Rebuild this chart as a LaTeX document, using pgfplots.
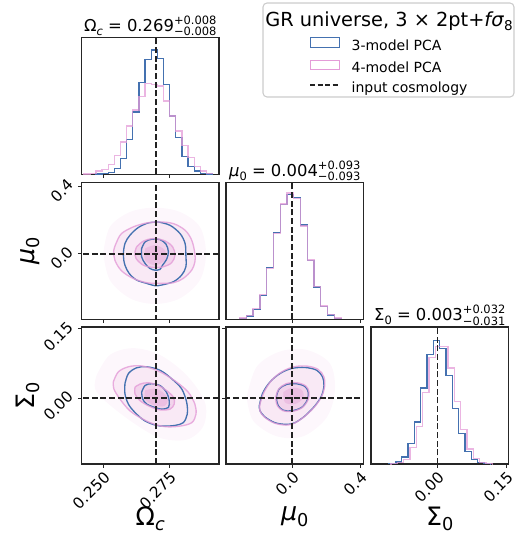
\documentclass[border=0pt]{standalone}
\usepackage{fontspec}
\setmainfont{DejaVu Sans}
\usepackage{pgfplots}
\pgfplotsset{compat=1.18}

\definecolor{modelA}{HTML}{4471B0}
\definecolor{modelB}{HTML}{E49CD8}
\definecolor{truthc}{HTML}{222222}
\definecolor{shadeA}{HTML}{FDF7FC}
\definecolor{shadeB}{HTML}{F9E9F5}
\definecolor{shadeC}{HTML}{F2D3EB}
\definecolor{shadeD}{HTML}{EBBFE2}

% small helpers for sub/superscripts set in the text font
\newcommand{\sub}[1]{\raisebox{-0.22em}{\scalebox{0.7}{#1}}}
\newcommand{\errs}[2]{\makebox[0pt][l]{\raisebox{5.6pt}{\fontsize{8.6}{9}\selectfont #1}}\raisebox{-3.3pt}{\fontsize{8.6}{9}\selectfont #2}}

\pgfplotsset{
  every axis title shift=0pt,
  panel/.style={
    scale only axis, width=103.125pt, height=102.75pt, anchor=north west,
    axis line style={line width=0.8pt, draw=black!85},
    tick align=outside, major tick length=2.8pt,
    tick style={line width=0.6pt, black!85},
    xtick pos=lower, ytick pos=left,
    tick label style={font=\fontsize{11.5}{12}\selectfont, inner sep=1.5pt},
    xticklabel style={rotate=45, anchor=north east},
    yticklabel style={rotate=45, anchor=south east},
    xlabel style={font=\fontsize{19}{20}\selectfont, at={(axis description cs:0.5,-0.3)}, anchor=north, inner sep=0pt, yshift=-1pt},
    ylabel style={font=\fontsize{19}{20}\selectfont, at={(axis description cs:-0.3,0.5)}, anchor=south, inner sep=0pt},
    title style={font=\fontsize{12.3}{13}\selectfont, at={(axis description cs:0.5,1)}, anchor=base, yshift=4.5pt, inner sep=0pt},
  },
  histA/.style={const plot, line width=1pt, draw=modelA, no marks, forget plot},
  histB/.style={const plot, line width=1pt, draw=modelB, draw opacity=0.75, no marks, forget plot},
  contA/.style={smooth, tension=0.55, line width=1pt, draw=modelA, no marks, forget plot},
  contB/.style={smooth, tension=0.55, line width=1pt, draw=modelB, draw opacity=0.8, no marks, forget plot},
  dens/.style={smooth, tension=0.55, draw=none, fill=#1, no marks, forget plot},
  truth/.style={line width=1.1pt, draw=truthc, dash pattern=on 4.5pt off 2pt, no marks, forget plot},
}

\begin{document}
\begin{tikzpicture}
\path[use as bounding box] (0pt,0pt) rectangle (393pt,402pt);

% ---------- legend frame and heading ----------
\draw[black!20, line width=0.8pt, fill=white, rounded corners=3pt]
  (197.25pt,329.25pt) rectangle (385.5pt,399.75pt);
\node[anchor=base, inner sep=0pt, font=\fontsize{14.5}{16}\selectfont]
  at (291.75pt,381.975pt) {GR universe, 3 × 2pt+\textit{fσ}\sub{8}};

% ---------- Omega_c marginal ----------
\begin{axis}[panel, at={(61.125pt,373.875pt)},
  xmin=0.2419, xmax=0.2938, ymin=0, ymax=410,
  xtick={0.25,0.275}, xticklabels={}, ytick=\empty,
  title={Ω\sub{\textit{c}} = 0.269\errs{+0.008}{−0.008}},
  legend style={at={(axis description cs:1.6567,1.0032)}, anchor=north west,
    draw=none, fill=none, inner sep=0pt, row sep=5pt, column sep=8.8pt,
    font=\fontsize{10.5}{12}\selectfont,
    nodes={inner sep=0pt, text height=7.8pt, text depth=2.2pt}},
  legend cell align=left]
\addlegendimage{legend image code/.code={\draw[draw=modelA, line width=0.8pt] (0pt,-0.6pt) rectangle (21.75pt,6.4pt);}}
\addlegendentry{3-model PCA}
\addlegendimage{legend image code/.code={\draw[draw=modelB, line width=0.8pt] (0pt,-0.6pt) rectangle (21.75pt,6.4pt);}}
\addlegendentry{4-model PCA}
\addlegendimage{legend image code/.code={\draw[draw=truthc, line width=1pt, dash pattern=on 3.8pt off 1.8pt] (0pt,2.9pt) -- (21.75pt,2.9pt);}}
\addlegendentry{input cosmology}
\addplot[histA] coordinates {
 (0.24738,0) (0.24738,1) (0.24969,2) (0.25201,5) (0.25433,18) (0.25664,47)
 (0.25896,105) (0.26127,187) (0.26359,275) (0.26591,345) (0.26822,373)
 (0.27054,347) (0.27285,270) (0.27517,175) (0.27749,110) (0.27980,53)
 (0.28212,23) (0.28443,10) (0.28675,3) (0.28907,1) (0.29138,1) (0.29138,0)};
\addplot[histB] coordinates {
 (0.24275,0) (0.24275,1) (0.24506,3) (0.24738,10) (0.24969,15) (0.25201,30)
 (0.25433,57) (0.25664,97) (0.25896,145) (0.26127,193) (0.26359,233)
 (0.26591,272) (0.26822,270) (0.27054,265) (0.27285,220) (0.27517,175)
 (0.27749,130) (0.27980,87) (0.28212,50) (0.28443,23) (0.28675,10)
 (0.28907,3) (0.29138,3) (0.29138,0)};
\addplot[truth] coordinates {(0.27,0) (0.27,410)};
\end{axis}

% ---------- Omega_c vs mu_0 ----------
\begin{axis}[panel, at={(61.125pt,265.125pt)},
  xmin=0.2419, xmax=0.2938, ymin=-0.388, ymax=0.421,
  xtick={0.25,0.275}, xticklabels={},
  ytick={0,0.4}, yticklabels={0.0,0.4},
  ylabel={\textit{μ}\sub{0}}]
\addplot[dens=shadeA] coordinates {(0.2501,0.0018) (0.2526,0.1586) (0.2602,0.2468) (0.2696,0.2723) (0.2791,0.2468) (0.2866,0.1586) (0.2889,0.0018) (0.2866,-0.1551) (0.2791,-0.2629) (0.2696,-0.2963) (0.2602,-0.2629) (0.2526,-0.1551) (0.2501,0.0018)};
\addplot[dens=shadeB] coordinates {(0.2552,0.0704) (0.2570,0.1194) (0.2614,0.1586) (0.2665,0.1821) (0.2715,0.1880) (0.2766,0.1782) (0.2810,0.1390) (0.2835,0.0802) (0.2847,0.0018) (0.2847,-0.0473) (0.2835,-0.0963) (0.2803,-0.1453) (0.2766,-0.1708) (0.2715,-0.1747) (0.2665,-0.1708) (0.2614,-0.1453) (0.2570,-0.1002) (0.2545,-0.0375) (0.2541,0.0214) (0.2552,0.0704)};
\addplot[dens=shadeC] coordinates {(0.2627,0.0410) (0.2652,0.0743) (0.2690,0.0900) (0.2734,0.0763) (0.2763,0.0410) (0.2772,-0.0081) (0.2759,-0.0531) (0.2728,-0.0767) (0.2690,-0.0806) (0.2652,-0.0669) (0.2625,-0.0277) (0.2621,0.0116) (0.2627,0.0410)};
\addplot[dens=shadeD] coordinates {(0.2659,0.0312) (0.2696,0.0508) (0.2734,0.0214) (0.2734,-0.0375) (0.2696,-0.0669) (0.2659,-0.0375) (0.2659,0.0312)};
\addplot[contA] coordinates {(0.2709,0.1880) (0.2753,0.1684) (0.2791,0.1194) (0.2810,0.0606) (0.2813,-0.0081) (0.2813,-0.0767) (0.2797,-0.1257) (0.2766,-0.1649) (0.2721,-0.1845) (0.2696,-0.1884) (0.2665,-0.1747) (0.2627,-0.1551) (0.2599,-0.1159) (0.2583,-0.0669) (0.2577,-0.0081) (0.2583,0.0606) (0.2602,0.1096) (0.2633,0.1547) (0.2671,0.1821) (0.2709,0.1880)};
\addplot[contA] coordinates {(0.2646,0.0312) (0.2659,0.0704) (0.2684,0.0861) (0.2715,0.0841) (0.2738,0.0567) (0.2747,0.0116) (0.2740,-0.0335) (0.2725,-0.0669) (0.2715,-0.0924) (0.2696,-0.0963) (0.2677,-0.0865) (0.2659,-0.0571) (0.2646,-0.0179) (0.2646,0.0312)};
\addplot[contB] coordinates {(0.2552,0.0704) (0.2570,0.1194) (0.2614,0.1586) (0.2665,0.1821) (0.2715,0.1880) (0.2766,0.1782) (0.2810,0.1390) (0.2835,0.0802) (0.2847,0.0018) (0.2847,-0.0473) (0.2835,-0.0963) (0.2803,-0.1453) (0.2766,-0.1708) (0.2715,-0.1747) (0.2665,-0.1708) (0.2614,-0.1453) (0.2570,-0.1002) (0.2545,-0.0375) (0.2541,0.0214) (0.2552,0.0704)};
\addplot[contB] coordinates {(0.2627,0.0410) (0.2652,0.0743) (0.2690,0.0900) (0.2734,0.0763) (0.2763,0.0410) (0.2772,-0.0081) (0.2759,-0.0531) (0.2728,-0.0767) (0.2690,-0.0806) (0.2652,-0.0669) (0.2625,-0.0277) (0.2621,0.0116) (0.2627,0.0410)};
\addplot[truth] coordinates {(0.27,-0.5) (0.27,0.5)};
\addplot[truth] coordinates {(0.2,0) (0.3,0)};
\end{axis}

% ---------- mu_0 marginal ----------
\begin{axis}[panel, at={(169.5pt,265.125pt)},
  xmin=-0.388, xmax=0.421, ymin=0, ymax=403,
  xtick={0,0.4}, xticklabels={}, ytick=\empty,
  title={\textit{μ}\sub{0} = 0.004\errs{+0.093}{−0.093}}]
\addplot[histA] coordinates {
 (-0.3079,0) (-0.3079,3) (-0.2681,10) (-0.2283,30) (-0.1885,71) (-0.1487,152)
 (-0.1088,255) (-0.0690,338) (-0.0292,368) (0.0106,358) (0.0504,278)
 (0.0902,173) (0.1300,96) (0.1698,38) (0.2097,13) (0.2495,3) (0.2893,3) (0.2893,0)};
\addplot[histB] coordinates {
 (-0.3079,0) (-0.3079,4) (-0.2681,12) (-0.2283,32) (-0.1885,73) (-0.1487,150)
 (-0.1088,252) (-0.0690,340) (-0.0292,372) (0.0106,355) (0.0504,275)
 (0.0902,175) (0.1300,98) (0.1698,40) (0.2097,14) (0.2495,4) (0.2893,4) (0.2893,0)};
\addplot[truth] coordinates {(0,0) (0,403)};
\end{axis}

% ---------- Omega_c vs Sigma_0 ----------
\begin{axis}[panel, at={(61.125pt,156.75pt)},
  xmin=0.2419, xmax=0.2938, ymin=-0.1433, ymax=0.1539,
  xtick={0.25,0.275}, xticklabels={0.250,0.275},
  ytick={0,0.15}, yticklabels={0.00,0.15},
  xlabel={Ω\sub{\textit{c}}}, ylabel={Σ\sub{0}}]
\addplot[dens=shadeA] coordinates {(0.2476,0.0492) (0.2526,0.0933) (0.2614,0.1080) (0.2715,0.0933) (0.2816,0.0492) (0.2885,-0.0096) (0.2879,-0.0611) (0.2816,-0.0905) (0.2715,-0.0868) (0.2614,-0.0538) (0.2514,-0.0096) (0.2470,0.0198) (0.2476,0.0492)};
\addplot[dens=shadeB] coordinates {(0.2539,0.0345) (0.2558,0.0566) (0.2596,0.0676) (0.2640,0.0698) (0.2684,0.0639) (0.2728,0.0529) (0.2778,0.0345) (0.2822,0.0124) (0.2847,-0.0133) (0.2851,-0.0354) (0.2835,-0.0537) (0.2791,-0.0611) (0.2740,-0.0626) (0.2696,-0.0574) (0.2652,-0.0464) (0.2602,-0.0280) (0.2564,-0.0023) (0.2541,0.0198) (0.2539,0.0345)};
\addplot[dens=shadeC] coordinates {(0.2621,0.0235) (0.2640,0.0301) (0.2671,0.0330) (0.2709,0.0271) (0.2740,0.0161) (0.2766,0.0014) (0.2769,-0.0133) (0.2753,-0.0243) (0.2715,-0.0258) (0.2677,-0.0185) (0.2640,-0.0060) (0.2621,0.0088) (0.2621,0.0235)};
\addplot[dens=shadeD] coordinates {(0.2659,0.0161) (0.2703,0.0198) (0.2743,0.0014) (0.2734,-0.0170) (0.2690,-0.0155) (0.2659,-0.0023) (0.2659,0.0161)};
\addplot[contA] coordinates {(0.2583,0.0308) (0.2596,0.0529) (0.2627,0.0654) (0.2665,0.0676) (0.2715,0.0602) (0.2759,0.0418) (0.2797,0.0198) (0.2816,-0.0096) (0.2818,-0.0354) (0.2803,-0.0537) (0.2772,-0.0596) (0.2734,-0.0611) (0.2703,-0.0596) (0.2659,-0.0501) (0.2621,-0.0317) (0.2596,-0.0133) (0.2583,0.0088) (0.2583,0.0308)};
\addplot[contA] coordinates {(0.2646,0.0124) (0.2659,0.0271) (0.2684,0.0308) (0.2715,0.0271) (0.2740,0.0124) (0.2750,-0.0060) (0.2747,-0.0207) (0.2721,-0.0243) (0.2696,-0.0207) (0.2665,-0.0133) (0.2650,-0.0023) (0.2646,0.0124)};
\addplot[contB] coordinates {(0.2539,0.0345) (0.2558,0.0566) (0.2596,0.0676) (0.2640,0.0698) (0.2684,0.0639) (0.2728,0.0529) (0.2778,0.0345) (0.2822,0.0124) (0.2847,-0.0133) (0.2851,-0.0354) (0.2835,-0.0537) (0.2791,-0.0611) (0.2740,-0.0626) (0.2696,-0.0574) (0.2652,-0.0464) (0.2602,-0.0280) (0.2564,-0.0023) (0.2541,0.0198) (0.2539,0.0345)};
\addplot[contB] coordinates {(0.2621,0.0235) (0.2640,0.0301) (0.2671,0.0330) (0.2709,0.0271) (0.2740,0.0161) (0.2766,0.0014) (0.2769,-0.0133) (0.2753,-0.0243) (0.2715,-0.0258) (0.2677,-0.0185) (0.2640,-0.0060) (0.2621,0.0088) (0.2621,0.0235)};
\addplot[truth] coordinates {(0.27,-0.2) (0.27,0.2)};
\addplot[truth] coordinates {(0.2,0) (0.3,0)};
\end{axis}

% ---------- mu_0 vs Sigma_0 ----------
\begin{axis}[panel, at={(169.5pt,156.75pt)},
  xmin=-0.388, xmax=0.421, ymin=-0.1433, ymax=0.1539,
  xtick={0,0.4}, xticklabels={0.0,0.4},
  ytick={0,0.15}, yticklabels={},
  xlabel={\textit{μ}\sub{0}}]
\addplot[dens=shadeA] coordinates {(-0.2666,0.0014) (-0.2078,0.0676) (-0.0706,0.1007) (0.0863,0.1043) (0.2235,0.0749) (0.2529,0.0161) (0.2039,-0.0427) (0.0667,-0.0831) (-0.0902,-0.0831) (-0.2274,-0.0500) (-0.2666,0.0014)};
\addplot[dens=shadeB] coordinates {(-0.1882,-0.0133) (-0.1647,0.0124) (-0.1196,0.0382) (-0.0608,0.0565) (0.0118,0.0676) (0.0902,0.0690) (0.1549,0.0617) (0.1883,0.0455) (0.1922,0.0249) (0.1745,0.0029) (0.1333,-0.0192) (0.0706,-0.0413) (0.0118,-0.0552) (-0.0353,-0.0589) (-0.1039,-0.0545) (-0.1627,-0.0413) (-0.1882,-0.0280) (-0.1882,-0.0133)};
\addplot[dens=shadeC] coordinates {(-0.0941,0.0029) (-0.0784,0.0190) (-0.0353,0.0308) (0.0275,0.0330) (0.0804,0.0264) (0.1000,0.0132) (0.0941,-0.0045) (0.0588,-0.0214) (-0.0020,-0.0295) (-0.0549,-0.0273) (-0.0843,-0.0177) (-0.0941,-0.0059) (-0.0941,0.0029)};
\addplot[dens=shadeD] coordinates {(-0.0510,0.0124) (-0.0020,0.0220) (0.0569,0.0176) (0.0667,-0.0001) (0.0176,-0.0133) (-0.0412,-0.0096) (-0.0510,0.0124)};
\addplot[contA] coordinates {(-0.1921,-0.0170) (-0.1725,0.0102) (-0.1294,0.0345) (-0.0706,0.0529) (-0.0020,0.0639) (0.0765,0.0661) (0.1451,0.0602) (0.1804,0.0455) (0.1883,0.0271) (0.1745,0.0051) (0.1353,-0.0170) (0.0765,-0.0390) (0.0176,-0.0537) (-0.0314,-0.0574) (-0.1000,-0.0537) (-0.1588,-0.0412) (-0.1882,-0.0280) (-0.1921,-0.0170)};
\addplot[contA] coordinates {(-0.0902,0.0051) (-0.0745,0.0198) (-0.0314,0.0293) (0.0275,0.0308) (0.0765,0.0249) (0.0961,0.0124) (0.0902,-0.0045) (0.0569,-0.0207) (-0.0020,-0.0280) (-0.0510,-0.0266) (-0.0804,-0.0170) (-0.0902,-0.0045) (-0.0902,0.0051)};
\addplot[contB] coordinates {(-0.1882,-0.0133) (-0.1647,0.0124) (-0.1196,0.0382) (-0.0608,0.0565) (0.0118,0.0676) (0.0902,0.0690) (0.1549,0.0617) (0.1883,0.0455) (0.1922,0.0249) (0.1745,0.0029) (0.1333,-0.0192) (0.0706,-0.0413) (0.0118,-0.0552) (-0.0353,-0.0589) (-0.1039,-0.0545) (-0.1627,-0.0413) (-0.1882,-0.0280) (-0.1882,-0.0133)};
\addplot[contB] coordinates {(-0.0941,0.0029) (-0.0784,0.0190) (-0.0353,0.0308) (0.0275,0.0330) (0.0804,0.0264) (0.1000,0.0132) (0.0941,-0.0045) (0.0588,-0.0214) (-0.0020,-0.0295) (-0.0549,-0.0273) (-0.0843,-0.0177) (-0.0941,-0.0059) (-0.0941,0.0029)};
\addplot[truth] coordinates {(0,-0.2) (0,0.2)};
\addplot[truth] coordinates {(-0.5,0) (0.5,0)};
\end{axis}

% ---------- Sigma_0 marginal ----------
\begin{axis}[panel, at={(278.25pt,156.75pt)},
  xmin=-0.1433, xmax=0.1539, ymin=0, ymax=411,
  xtick={0,0.15}, xticklabels={0.00,0.15}, ytick=\empty,
  xlabel={Σ\sub{0}},
  title={Σ\sub{0} = 0.003\errs{+0.032}{−0.031}}]
\addplot[histA] coordinates {
 (-0.1044,0) (-0.1044,2) (-0.0907,6) (-0.0770,21) (-0.0633,61) (-0.0496,126)
 (-0.0359,228) (-0.0222,328) (-0.0085,371) (0.0052,346) (0.0189,266)
 (0.0325,166) (0.0462,91) (0.0599,38) (0.0736,13) (0.0873,4) (0.1010,1)
 (0.1147,1) (0.1147,0)};
\addplot[histB] coordinates {
 (-0.1004,0) (-0.1004,1) (-0.0867,4) (-0.0730,14) (-0.0593,50) (-0.0456,112)
 (-0.0319,214) (-0.0182,320) (-0.0045,352) (0.0092,352) (0.0229,288)
 (0.0365,188) (0.0502,104) (0.0639,45) (0.0776,17) (0.0913,5) (0.1050,1)
 (0.1187,1) (0.1187,0)};
\addplot[truth] coordinates {(0,0) (0,411)};
\end{axis}
\end{tikzpicture}
\end{document}
